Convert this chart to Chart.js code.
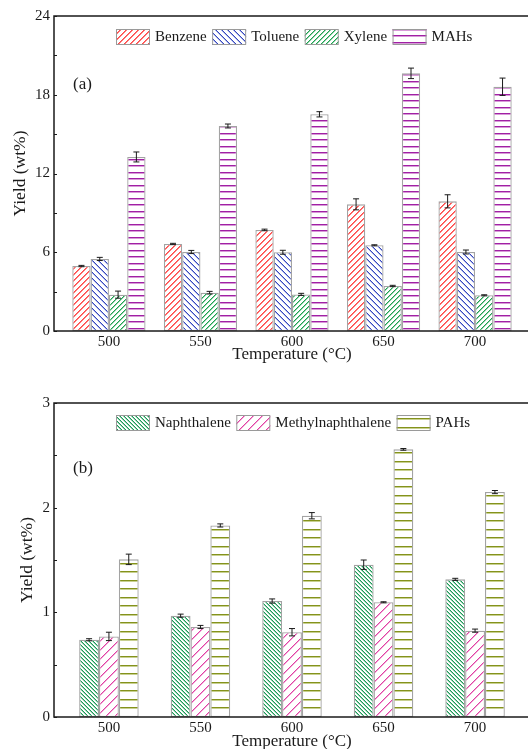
<!DOCTYPE html>
<html>
<head>
<meta charset="utf-8">
<script src="https://cdn.jsdelivr.net/npm/chart.js@4.4.0/dist/chart.umd.min.js"></script>
<style>
  html, body { margin: 0; padding: 0; background: #fff; overflow: hidden; width: 528px; height: 749px; }
  canvas { position: absolute; left: 0; }
  #chartA { top: 0; }
  #chartB { top: 372px; }
</style>
</head>
<body>
<canvas id="chartA" width="560" height="372"></canvas>
<canvas id="chartB" width="560" height="377"></canvas>
<script>
// temperatures (°C)
const temps = [500, 550, 600, 650, 700];

// (a) monocyclic aromatics, wt%
const benzene = [4.95, 6.63, 7.70, 9.65, 9.88];
const benzeneErr = [0.05, 0.05, 0.06, 0.42, 0.50];
const toluene = [5.49, 6.02, 6.00, 6.53, 6.02];
const tolueneErr = [0.12, 0.12, 0.15, 0.04, 0.15];
const xylene = [2.77, 2.92, 2.79, 3.43, 2.72];
const xyleneErr = [0.27, 0.10, 0.08, 0.05, 0.04];
const mahs = [13.26, 15.62, 16.51, 19.63, 18.61];
const mahsErr = [0.38, 0.15, 0.20, 0.40, 0.66];

// (b) polycyclic aromatics, wt%
const naph = [0.738, 0.968, 1.108, 1.455, 1.315];
const naphErr = [0.010, 0.015, 0.020, 0.045, 0.010];
const methylNaph = [0.770, 0.860, 0.810, 1.096, 0.825];
const methylNaphErr = [0.040, 0.015, 0.035, 0.005, 0.015];
const pahs = [1.506, 1.830, 1.923, 2.557, 2.149];
const pahsErr = [0.050, 0.015, 0.030, 0.008, 0.015];

const yTicksA = [0, 6, 12, 18, 24];
const yMinorA = [3, 9, 15, 21];
const yTicksB = [0, 1, 2, 3];
const yMinorB = [0.5, 1.5, 2.5];

const SERIF = '"Liberation Serif", "Times New Roman", serif';
const INK = '#1a1a1a';

// diagonal hatch: a solid pixel plus a lighter one below it in each column
function diag(color, tint, dir, gap) {
  const c = document.createElement('canvas');
  c.width = gap; c.height = gap;
  const g = c.getContext('2d');
  g.fillStyle = '#fff'; g.fillRect(0, 0, gap, gap);
  for (let x = 0; x < gap; x++) {
    const y0 = dir === '/' ? gap - 1 - x : x;
    g.fillStyle = color; g.fillRect(x, y0, 1, 1);
    g.fillStyle = tint; g.fillRect(x, (y0 + 1) % gap, 1, 1);
  }
  return g.createPattern(c, 'repeat');
}

// horizontal lines, 2px each (solid + tint)
function rows(color, tint, gap) {
  const c = document.createElement('canvas');
  c.width = 4; c.height = gap * 2;
  const g = c.getContext('2d');
  g.fillStyle = '#fff'; g.fillRect(0, 0, c.width, c.height);
  [Math.floor(gap / 2), Math.floor(gap * 1.5)].forEach(y => {
    g.fillStyle = color; g.fillRect(0, y, 4, 1);
    g.fillStyle = tint; g.fillRect(0, y + 1, 4, 1);
  });
  return g.createPattern(c, 'repeat');
}

function series(label, data, errors, fill) {
  return {
    label, data, errors,
    backgroundColor: fill,
    borderColor: '#a3a3a3',
    borderWidth: 1.3,
    borderSkipped: false
  };
}

// frame, inner ticks, error bars, legend and panel tag
const decor = {
  id: 'decor',
  afterDatasetsDraw(chart) {
    const ctx = chart.ctx;
    const y = chart.scales.y;
    ctx.save();
    ctx.strokeStyle = INK;
    ctx.lineWidth = 1;
    chart.data.datasets.forEach((ds, i) => {
      const meta = chart.getDatasetMeta(i);
      meta.data.forEach((bar, j) => {
        const v = ds.data[j], e = ds.errors[j];
        const top = y.getPixelForValue(v + e);
        const bot = y.getPixelForValue(v - e);
        ctx.beginPath();
        ctx.moveTo(bar.x, top); ctx.lineTo(bar.x, bot);
        ctx.moveTo(bar.x - 3, top); ctx.lineTo(bar.x + 3, top);
        ctx.moveTo(bar.x - 3, bot); ctx.lineTo(bar.x + 3, bot);
        ctx.stroke();
      });
    });
    ctx.restore();
  },
  afterDraw(chart, args, opts) {
    const ctx = chart.ctx;
    const a = chart.chartArea;
    const y = chart.scales.y;
    ctx.save();
    ctx.strokeStyle = INK;
    ctx.lineWidth = 1.5;
    ctx.strokeRect(a.left, a.top, a.right - a.left, a.bottom - a.top);

    ctx.lineWidth = 1;
    ctx.beginPath();
    opts.ticks.concat(opts.minor).forEach(v => {
      const py = Math.round(y.getPixelForValue(v)) + 0.5;
      ctx.moveTo(a.left, py); ctx.lineTo(a.left + 3, py);
    });
    ctx.stroke();

    // legend inside the plot
    ctx.font = '15px ' + SERIF;
    ctx.textBaseline = 'middle';
    ctx.textAlign = 'left';
    let lx = 116;
    const ly = opts.legendY;
    chart.data.datasets.forEach(ds => {
      ctx.fillStyle = ds.backgroundColor;
      ctx.fillRect(lx, ly, 34, 16);
      ctx.strokeStyle = '#9a9a9a';
      ctx.lineWidth = 1;
      ctx.strokeRect(lx + 0.5, ly + 0.5, 33, 15);
      ctx.fillStyle = INK;
      ctx.fillText(ds.label, lx + 39, ly + 8.5);
      lx += 39 + ctx.measureText(ds.label).width + 5.5;
    });

    ctx.font = '17px ' + SERIF;
    ctx.fillText(opts.tag, 73, opts.tagY);

    // axis titles
    ctx.textAlign = 'center';
    ctx.fillText('Temperature (°C)', (a.left + a.right) / 2, opts.xTitleY);
    ctx.font = '17.5px ' + SERIF;
    ctx.translate(opts.yTitleX, (a.top + a.bottom) / 2);
    ctx.rotate(-Math.PI / 2);
    ctx.fillText('Yield (wt%)', 0, 0);
    ctx.restore();
  }
};

function makeChart(id, datasets, o) {
  return new Chart(document.getElementById(id), {
    type: 'bar',
    data: { labels: temps, datasets },
    plugins: [decor],
    options: {
      responsive: false,
      animation: false,
      events: [],
      layout: { padding: { top: o.top, right: 30, left: 0, bottom: 0 } },
      datasets: { bar: { categoryPercentage: o.groupWidth, barPercentage: 1 } },
      plugins: {
        legend: { display: false },
        tooltip: { enabled: false },
        decor: {
          ticks: o.ticks, minor: o.minor, legendY: o.legendY,
          tag: o.tag, tagY: o.tagY, xTitleY: o.xTitleY, yTitleX: o.yTitleX
        }
      },
      scales: {
        x: {
          type: 'linear', min: 470, max: 730, offset: false,
          afterBuildTicks: s => { s.ticks = temps.map(v => ({ value: v })); },
          afterFit: s => { s.height = o.xAxisH; },
          grid: { display: false, drawTicks: false },
          border: { display: false },
          ticks: { padding: 2, color: INK, font: { family: SERIF, size: 15 } }
        },
        y: {
          min: 0, max: o.ticks[o.ticks.length - 1],
          afterBuildTicks: s => { s.ticks = o.ticks.map(v => ({ value: v })); },
          afterFit: s => { s.width = 54; },
          grid: { display: false, drawTicks: false },
          border: { display: false },
          ticks: { padding: 4, color: INK, font: { family: SERIF, size: 15 } }
        }
      }
    }
  });
}

makeChart('chartA', [
  series('Benzene', benzene, benzeneErr, diag('#ff4a4a', '#ff7a7a', '/', 6)),
  series('Toluene', toluene, tolueneErr, diag('#3446c0', '#a8b0e4', '\\', 6)),
  series('Xylene', xylene, xyleneErr, diag('#1fa052', '#8fd4a8', '/', 5)),
  series('MAHs', mahs, mahsErr, rows('#a020a4', '#d89ad8', 6.5))
], {
  top: 16, xAxisH: 41, groupWidth: 0.8,
  ticks: yTicksA, minor: yMinorA,
  legendY: 29, tag: '(a)', tagY: 85, xTitleY: 355, yTitleX: 20
});

makeChart('chartB', [
  series('Naphthalene', naph, naphErr, diag('#1c9858', '#90d0ac', '\\', 4)),
  series('Methylnaphthalene', methylNaph, methylNaphErr, diag('#e040a4', '#f2a8d6', '/', 9)),
  series('PAHs', pahs, pahsErr, rows('#84921c', '#c8d090', 8.5))
], {
  top: 31, xAxisH: 32, groupWidth: 0.65,
  ticks: yTicksB, minor: yMinorB,
  legendY: 43, tag: '(b)', tagY: 97, xTitleY: 370, yTitleX: 27
});
</script>
</body>
</html>
